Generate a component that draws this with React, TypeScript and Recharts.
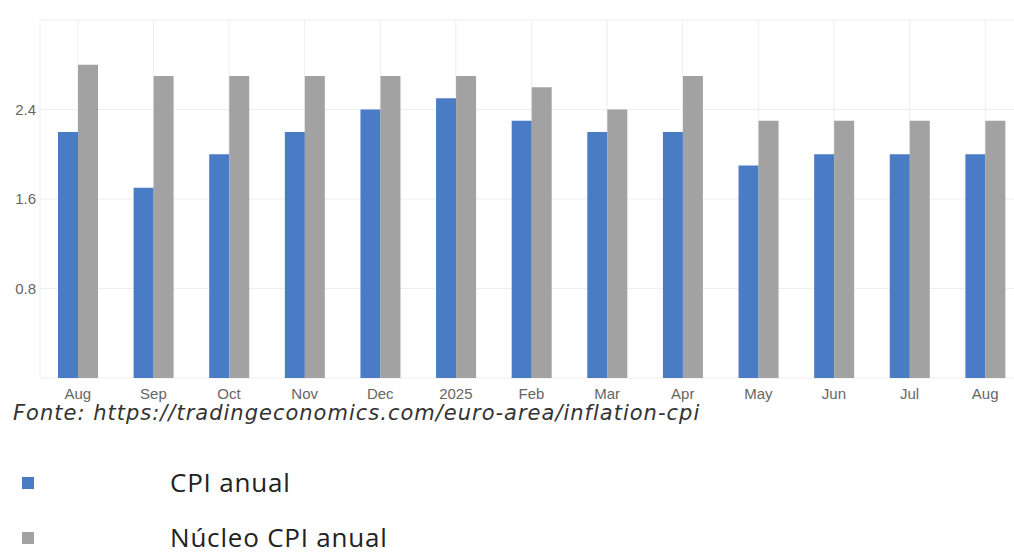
import { BarChart, Bar, XAxis, YAxis, CartesianGrid } from "recharts";

// Euro area annual inflation, Aug 2024 - Aug 2025
const months = ["Aug", "Sep", "Oct", "Nov", "Dec", "2025", "Feb", "Mar", "Apr", "May", "Jun", "Jul", "Aug"];
const cpiAnual = [2.2, 1.7, 2.0, 2.2, 2.4, 2.5, 2.3, 2.2, 2.2, 1.9, 2.0, 2.0, 2.0];
const nucleoAnual = [2.8, 2.7, 2.7, 2.7, 2.7, 2.7, 2.6, 2.4, 2.7, 2.3, 2.3, 2.3, 2.3];
const yTicks = [0.8, 1.6, 2.4];

const BLUE = "#4a7cc5";
const GREY = "#a2a2a2";

const chartData = months.map((m, i) => ({
  idx: i,
  month: m,
  cpi: cpiAnual[i],
  core: nucleoAnual[i],
}));

const legendItems = [
  { label: "CPI anual", color: BLUE, top: 468 },
  { label: "Núcleo CPI anual", color: GREY, top: 523 },
];

export default function App() {
  return (
    <div
      style={{
        position: "absolute",
        left: 0,
        top: 0,
        width: 1014,
        height: 554,
        overflow: "hidden",
        background: "#fff",
        fontFamily: "'Liberation Sans', Arial, sans-serif",
      }}
    >
      <BarChart
        width={1023}
        height={410}
        data={chartData}
        margin={{ top: 20, right: 0, bottom: 10, left: 0 }}
        barGap={0}
        barSize={20}
      >
        <CartesianGrid stroke="#eeeeee" />
        <XAxis
          dataKey="idx"
          type="category"
          height={22}
          tickLine={false}
          axisLine={false}
          tickFormatter={(i: number) => months[i]}
          tick={{ fontSize: 15, fill: "#666" }}
          tickMargin={4}
          interval={0}
        />
        <YAxis
          width={40}
          domain={[0, 3.2]}
          ticks={yTicks}
          tickLine={false}
          axisLine={false}
          tickSize={4}
          tickMargin={0}
          tickFormatter={(v: number) => v.toFixed(1)}
          tick={{ fontSize: 15, fill: "#666" }}
        />
        <Bar dataKey="cpi" fill={BLUE} isAnimationActive={false} />
        <Bar dataKey="core" fill={GREY} isAnimationActive={false} />
      </BarChart>

      <div
        style={{
          position: "absolute",
          left: 13,
          top: 401,
          fontFamily: "'DejaVu Sans', sans-serif",
          fontStyle: "italic",
          fontSize: 21,
          letterSpacing: 1.0,
          color: "#333",
          whiteSpace: "nowrap",
        }}
      >
        Fonte: https://tradingeconomics.com/euro-area/inflation-cpi
      </div>

      {legendItems.map((it) => (
        <div key={it.label} style={{ position: "absolute", left: 0, top: it.top, height: 28 }}>
          <div
            style={{
              position: "absolute",
              left: 22,
              top: 9,
              width: 12,
              height: 12,
              background: it.color,
            }}
          />
          <div
            style={{
              position: "absolute",
              left: 170,
              top: 0,
              fontFamily: "'Open Sans', sans-serif",
              fontSize: 26,
              lineHeight: "28px",
              letterSpacing: 0.8,
              color: "#222",
              whiteSpace: "nowrap",
            }}
          >
            {it.label}
          </div>
        </div>
      ))}
    </div>
  );
}
